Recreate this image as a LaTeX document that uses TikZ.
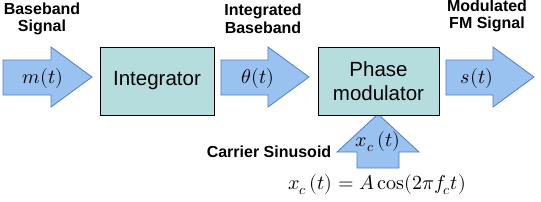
\documentclass[tikz,border=0pt]{standalone}
\usepackage{fontspec}
\setmainfont{Liberation Sans}
\usepackage{amsmath}
\usepackage{unicode-math}
\setmathfont{Latin Modern Math}
\newcommand{\mycos}{\mathop{\symup{cos}}\nolimits}
\begin{document}
\begin{tikzpicture}[x=1pt,y=-1pt,
  arrowshape/.style={fill={rgb,255:red,153;green,194;blue,240},draw={rgb,255:red,80;green,125;blue,200},line width=0.8pt,line join=miter},
  boxshape/.style={draw=black,fill={rgb,255:red,182;green,221;blue,222},line width=0.9pt,minimum width=114pt,minimum height=68pt,inner sep=0pt,align=center,font=\fontsize{20.5}{23.5}\selectfont},
  lbl/.style={font=\fontsize{16}{17.5}\selectfont\bfseries,align=center,inner sep=0pt},
  mathlbl/.style={font=\fontsize{20}{22}\selectfont,inner sep=0pt}]
\useasboundingbox (0,0) rectangle (541,201);
% right arrows
\draw[arrowshape] (3,60) -- (51,60) -- (51,47) -- (92,77) -- (51,107) -- (51,95) -- (3,95) -- cycle;
\draw[arrowshape] (221,60) -- (268,60) -- (268,47) -- (309,77) -- (268,107) -- (268,95) -- (221,95) -- cycle;
\draw[arrowshape] (446,60) -- (493,60) -- (493,47) -- (534,77) -- (493,107) -- (493,95) -- (446,95) -- cycle;
% up arrow
\draw[arrowshape] (357,168) -- (357,152) -- (337,152) -- (378,114) -- (419,152) -- (399,152) -- (399,168) -- cycle;
% boxes
\node[boxshape] (integ) at (157,81) {Integrator};
\node[boxshape,minimum width=121pt] (pm) at (378.5,81) {Phase\\modulator};
% math labels
\node[mathlbl] (m) at (43,78) {$m(t)$};
\node[mathlbl] (th) at (258,78) {$\theta(t)$};
\node[mathlbl] (s) at (477,78) {$s(t)$};
\node[mathlbl] (xc) at (378,142) {$x_c\,(t)$};
\node[mathlbl] (eq) at (377,185) {$x_c\,(t) = A\mycos(2\pi f_c t)$};
% text labels
\node[lbl] (bb) at (42,19) {Baseband\\Signal};
\node[lbl] (ib) at (263,19) {Integrated\\Baseband};
\node[lbl] (fm) at (487,16) {Modulated\\FM Signal};
\node[lbl] (cs) at (269,152) {Carrier Sinusoid};
\end{tikzpicture}
\end{document}
